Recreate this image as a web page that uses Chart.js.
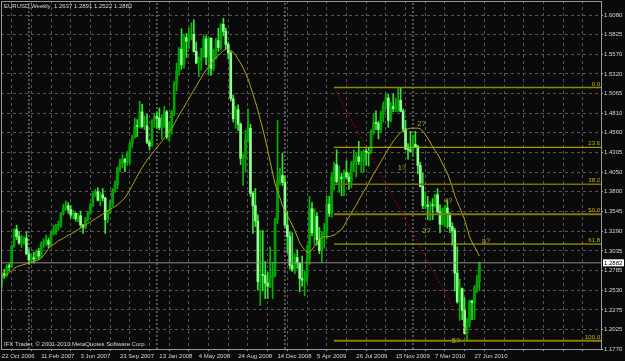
<!DOCTYPE html>
<html><head><meta charset="utf-8">
<script src="https://cdn.jsdelivr.net/npm/chart.js@4.4.1/dist/chart.umd.min.js"></script>
<style>html,body{margin:0;padding:0;background:#0a0a0a;overflow:hidden}#wrap{width:625px;height:361px;position:relative}</style>
</head><body><div id="wrap"><canvas id="c" width="625" height="361"></canvas></div>
<script>
// ---------- DATA ----------
const symbolTitle = 'EURUSD,Weekly';
const lastOHLC = [1.2637, 1.2891, 1.2522, 1.2882];
const copyrightText = 'IFX Trader, \u00a9 2001-2010 MetaQuotes Software Corp.';

// weekly bars, first bar = week of 22 Oct 2006, last = week of 11 Jul 2010
const opens = [1.2590,1.2740,1.2720,1.2840,1.2830,1.3100,1.3310,1.3220,1.3140,1.3150,1.3200,1.3000,1.2920,1.2950,1.2930,1.3030,1.2970,1.3130,1.3160,1.3170,
1.3120,1.3260,1.3300,1.3360,1.3380,1.3520,1.3590,1.3620,1.3570,1.3500,1.3520,1.3450,1.3490,1.3370,1.3340,1.3450,1.3520,1.3630,1.3780,1.3800,
1.3690,1.3760,1.3720,1.3440,1.3530,1.3640,1.3820,1.3890,1.4100,1.4160,1.4220,1.4180,1.4300,1.4420,1.4500,1.4650,1.4640,1.4830,1.4640,1.4650,
1.4440,1.4390,1.4720,1.4770,1.4750,1.4630,1.4650,1.4830,1.4510,1.4630,1.4830,1.5180,1.5360,1.5640,1.5440,1.5790,1.5740,1.5820,1.5830,1.5610,
1.5460,1.5490,1.5540,1.5770,1.5540,1.5780,1.5390,1.5610,1.5750,1.5660,1.5960,1.5870,1.5700,1.5590,1.5000,1.4740,1.4860,1.4670,1.4230,1.4240,
1.4470,1.4620,1.3780,1.3620,1.3420,1.2640,1.2730,1.2720,1.2620,1.2580,1.2690,1.2720,1.3440,1.3950,1.4010,1.3920,1.3370,1.3220,1.2850,1.2800,
1.2950,1.2880,1.2680,1.2660,1.2690,1.2930,1.3580,1.3270,1.3480,1.3180,1.3040,1.3250,1.3280,1.3640,1.3520,1.3990,1.4150,1.3930,1.3990,1.3970,
1.4050,1.3990,1.3930,1.4160,1.4200,1.4250,1.4190,1.4200,1.4320,1.4310,1.4300,1.4570,1.4690,1.4680,1.4600,1.4790,1.4910,1.5010,1.4720,1.4900,
1.4870,1.4920,1.4980,1.4840,1.4610,1.4350,1.4340,1.4320,1.4410,1.4380,1.4140,1.3870,1.3620,1.3630,1.3610,1.3630,1.3620,1.3760,1.3540,1.3380,
1.3570,1.3590,1.3520,1.3350,1.3300,1.2750,1.2380,1.2550,1.2270,1.1970,1.2110,1.2390,1.2370,1.2560,1.2637];
const highs = [1.2760,1.2800,1.2860,1.2870,1.3110,1.3320,1.3367,1.3290,1.3240,1.3220,1.3280,1.3060,1.2990,1.3020,1.3050,1.3070,1.3150,1.3190,1.3240,1.3200,
1.3280,1.3370,1.3380,1.3420,1.3530,1.3640,1.3680,1.3660,1.3620,1.3560,1.3530,1.3520,1.3550,1.3380,1.3470,1.3540,1.3650,1.3790,1.3830,1.3852,
1.3790,1.3840,1.3730,1.3560,1.3690,1.3840,1.3940,1.4120,1.4220,1.4280,1.4230,1.4320,1.4440,1.4530,1.4750,1.4730,1.4967,1.4930,1.4780,1.4800,
1.4470,1.4730,1.4810,1.4820,1.4880,1.4790,1.4900,1.4850,1.4700,1.4850,1.5220,1.5460,1.5660,1.5903,1.5830,1.5840,1.5910,1.5980,1.6019,1.5730,
1.5540,1.5650,1.5820,1.5810,1.5800,1.5790,1.5640,1.5780,1.5910,1.5970,1.6038,1.5910,1.5730,1.5610,1.5050,1.4900,1.4920,1.4690,1.4290,1.4590,
1.4867,1.4670,1.3800,1.3840,1.3500,1.3300,1.3300,1.2900,1.2760,1.3090,1.2890,1.3460,1.4720,1.4100,1.4300,1.4000,1.3550,1.3280,1.3270,1.3000,
1.3050,1.2890,1.2970,1.2780,1.3110,1.3738,1.3660,1.3580,1.3530,1.3340,1.3290,1.3390,1.3740,1.3740,1.4050,1.4180,1.4340,1.4130,1.4040,1.4080,
1.4200,1.4040,1.4190,1.4340,1.4300,1.4450,1.4320,1.4340,1.4380,1.4370,1.4600,1.4800,1.4845,1.4710,1.4840,1.4960,1.5060,1.5060,1.4950,1.5060,
1.5010,1.5144,1.5140,1.4870,1.4720,1.4420,1.4580,1.4530,1.4580,1.4400,1.4180,1.4040,1.3800,1.3740,1.3670,1.3710,1.3770,1.3840,1.3630,1.3590,
1.3620,1.3690,1.3530,1.3400,1.3330,1.3090,1.2670,1.2560,1.2430,1.2170,1.2400,1.2400,1.2590,1.2720,1.2891];
const lows = [1.2555,1.2680,1.2700,1.2780,1.2820,1.3080,1.3180,1.3120,1.3080,1.3120,1.2985,1.2865,1.2880,1.2880,1.2920,1.2930,1.2950,1.3080,1.3100,1.3075,
1.3100,1.3240,1.3250,1.3300,1.3340,1.3500,1.3560,1.3520,1.3460,1.3450,1.3420,1.3410,1.3340,1.3260,1.3320,1.3420,1.3510,1.3610,1.3740,1.3680,
1.3620,1.3680,1.3261,1.3400,1.3520,1.3610,1.3790,1.3840,1.4060,1.4110,1.4060,1.4140,1.4160,1.4370,1.4490,1.4510,1.4620,1.4620,1.4600,1.4420,
1.4340,1.4380,1.4630,1.4620,1.4600,1.4480,1.4630,1.4480,1.4450,1.4540,1.4780,1.5100,1.5300,1.5380,1.5400,1.5530,1.5650,1.5760,1.5600,1.5450,
1.5285,1.5370,1.5530,1.5440,1.5310,1.5300,1.5360,1.5510,1.5610,1.5630,1.5810,1.5640,1.5510,1.4970,1.4700,1.4620,1.4590,1.4150,1.3880,1.4050,
1.4440,1.3740,1.3260,1.3350,1.2530,1.2330,1.2520,1.2420,1.2420,1.2560,1.2420,1.2700,1.3390,1.3890,1.3880,1.3340,1.3010,1.2800,1.2770,1.2740,
1.2810,1.2510,1.2580,1.2456,1.2630,1.2860,1.3230,1.3120,1.3110,1.3000,1.2890,1.3070,1.3190,1.3480,1.3470,1.3820,1.3910,1.3790,1.3750,1.3750,
1.3960,1.3830,1.3850,1.4060,1.3990,1.4150,1.4050,1.4050,1.4140,1.4130,1.4290,1.4540,1.4600,1.4480,1.4560,1.4700,1.4870,1.4630,1.4700,1.4830,
1.4830,1.4830,1.4830,1.4570,1.4340,1.4220,1.4320,1.4260,1.4370,1.4030,1.3860,1.3580,1.3580,1.3440,1.3430,1.3440,1.3600,1.3530,1.3270,1.3370,
1.3350,1.3330,1.3270,1.3110,1.2520,1.2360,1.2140,1.2150,1.1960,1.1876,1.2050,1.2150,1.2150,1.2500,1.2522];
const closes = [1.2740,1.2720,1.2840,1.2830,1.3100,1.3310,1.3220,1.3140,1.3150,1.3200,1.3000,1.2920,1.2950,1.2930,1.3030,1.2970,1.3130,1.3160,1.3170,1.3120,
1.3260,1.3300,1.3360,1.3380,1.3520,1.3590,1.3620,1.3570,1.3500,1.3520,1.3450,1.3490,1.3370,1.3340,1.3450,1.3520,1.3630,1.3780,1.3800,1.3690,
1.3760,1.3720,1.3440,1.3530,1.3640,1.3820,1.3890,1.4100,1.4160,1.4220,1.4180,1.4300,1.4420,1.4500,1.4650,1.4640,1.4830,1.4640,1.4650,1.4440,
1.4390,1.4720,1.4770,1.4750,1.4630,1.4650,1.4830,1.4510,1.4630,1.4830,1.5180,1.5360,1.5640,1.5440,1.5790,1.5740,1.5820,1.5830,1.5610,1.5460,
1.5490,1.5540,1.5770,1.5540,1.5780,1.5390,1.5610,1.5750,1.5660,1.5960,1.5870,1.5700,1.5590,1.5000,1.4740,1.4860,1.4670,1.4230,1.4240,1.4470,
1.4620,1.3780,1.3620,1.3420,1.2640,1.2730,1.2720,1.2620,1.2580,1.2690,1.2720,1.3440,1.3950,1.4010,1.3920,1.3370,1.3220,1.2850,1.2800,1.2950,
1.2880,1.2680,1.2660,1.2690,1.2930,1.3580,1.3270,1.3480,1.3180,1.3040,1.3250,1.3280,1.3640,1.3520,1.3990,1.4150,1.3930,1.3990,1.3970,1.4050,
1.3990,1.3930,1.4160,1.4200,1.4250,1.4190,1.4200,1.4320,1.4310,1.4300,1.4570,1.4690,1.4680,1.4600,1.4790,1.4910,1.5010,1.4720,1.4900,1.4870,
1.4920,1.4980,1.4840,1.4610,1.4350,1.4340,1.4320,1.4410,1.4380,1.4140,1.3870,1.3620,1.3630,1.3610,1.3630,1.3620,1.3760,1.3540,1.3380,1.3570,
1.3590,1.3520,1.3350,1.3300,1.2750,1.2380,1.2550,1.2270,1.1970,1.2110,1.2390,1.2370,1.2560,1.2637,1.2882];
// yellow moving average
const maValues = [1.270,1.272,1.273,1.276,1.278,1.281,1.283,1.284,1.285,1.286,1.287,1.288,1.289,1.290,1.291,1.292,1.294,1.298,1.302,1.307,
1.310,1.312,1.314,1.317,1.318,1.320,1.322,1.324,1.325,1.327,1.329,1.331,1.333,1.335,1.337,1.339,1.341,1.343,1.345,1.347,
1.349,1.351,1.353,1.355,1.357,1.359,1.361,1.363,1.366,1.369,1.372,1.377,1.382,1.388,1.394,1.400,1.406,1.411,1.416,1.421,
1.425,1.429,1.433,1.437,1.441,1.445,1.449,1.454,1.458,1.462,1.467,1.473,1.479,1.484,1.489,1.495,1.500,1.506,1.511,1.516,
1.522,1.527,1.533,1.537,1.541,1.546,1.550,1.553,1.556,1.559,1.562,1.564,1.564,1.562,1.560,1.556,1.551,1.546,1.540,1.533,
1.526,1.516,1.506,1.496,1.485,1.473,1.461,1.448,1.434,1.419,1.404,1.390,1.381,1.372,1.362,1.355,1.349,1.343,1.337,1.330,
1.322,1.314,1.309,1.305,1.302,1.302,1.305,1.310,1.314,1.318,1.321,1.322,1.322,1.322,1.323,1.324,1.326,1.329,1.331,1.336,
1.342,1.347,1.352,1.358,1.363,1.369,1.375,1.380,1.385,1.391,1.397,1.403,1.408,1.413,1.419,1.424,1.430,1.435,1.440,1.445,
1.449,1.453,1.456,1.459,1.460,1.461,1.462,1.462,1.462,1.462,1.461,1.458,1.454,1.449,1.444,1.438,1.433,1.429,1.423,1.416,
1.410,1.404,1.395,1.386,1.375,1.367,1.360,1.352,1.344,1.333,1.322,1.315,1.309,1.303,1.297];

const dateTickLabels = ['22 Oct 2006','11 Feb 2007','3 Jun 2007','23 Sep 2007','13 Jan 2008','4 May 2008','24 Aug 2008','14 Dec 2008','5 Apr 2009','26 Jul 2009','15 Nov 2009','7 Mar 2010','27 Jun 2010'];
const priceTickValues = [1.6080,1.5825,1.5570,1.5320,1.5065,1.4810,1.4560,1.4305,1.4050,1.3800,1.3545,1.3290,1.3035,1.2785,1.2530,1.2275,1.2025,1.1770];
const yearStartBars = [11, 63, 115, 167];          // first weekly bar of 2007, 2008, 2009, 2010
const currentPrice = 1.2882;

const fibHigh = 1.5144, fibLow = 1.1876;
const fibLevels = [0, 23.6, 38.2, 50, 61.8, 100];
const fibLevelNames = ['0.0','23.6','38.2','50.0','61.8','100.0'];
const fibAnchorBars = [134.9, 190.6];

const waveTexts = ['1?','2?','3?','4?','5?','a?'];
const waveBars = [162.5, 170.5, 172.5, 181.4, 184.5, 196.7];
const wavePrices = [1.4112, 1.4680, 1.3293, 1.3686, 1.1873, 1.3170];

// ---------- CHART ----------
const X_MIN = -0.33, X_MAX = 243.4, Y_MIN = 1.1770, Y_MAX = 1.6261;
const FONT = "'Liberation Sans', Arial, sans-serif";
const fibStyle = [
  {c:'#8e8c00', w:1.6}, {c:'#c2c000', w:1}, {c:'#747200', w:1.6},
  {c:'#807a00', w:2}, {c:'#c2c000', w:1}, {c:'#848200', w:2}
];

const bull = closes.map((c, i) => c >= opens[i]);
const datasets = [];

yearStartBars.forEach(b => datasets.push({
  type:'line', order:8, data:[{x:b, y:Y_MIN}, {x:b, y:Y_MAX}],
  borderColor:'#9c9c9c', borderWidth:1, borderDash:[2,2], pointRadius:0, fill:false
}));
datasets.push({
  type:'line', order:3, data:[{x:X_MIN, y:currentPrice}, {x:X_MAX, y:currentPrice}],
  borderColor:'#8e8e8e', borderWidth:1, pointRadius:0, fill:false
});
fibLevels.forEach((lv, k) => {
  const p = fibHigh - (fibHigh - fibLow) * lv / 100;
  datasets.push({
    type:'line', order:1, data:[{x:fibAnchorBars[0], y:p}, {x:X_MAX, y:p}],
    borderColor:fibStyle[k].c, borderWidth:fibStyle[k].w, pointRadius:0, fill:false
  });
});
datasets.push({
  type:'bar', order:6, grouped:false, barPercentage:1, categoryPercentage:1, maxBarThickness:1,
  data: lows.map((l, i) => ({x:i, y:[l, highs[i]]})),
  backgroundColor: bull.map(b => b ? '#00b800' : '#2fe82f')
});
datasets.push({
  type:'bar', order:5, grouped:false, barPercentage:1, categoryPercentage:1, maxBarThickness:2, minBarLength:1,
  data: opens.map((o, i) => ({x:i, y:[Math.min(o, closes[i]), Math.max(o, closes[i])]})),
  backgroundColor: bull.map(b => b ? '#00a400' : '#8cff8c')
});
datasets.push({
  type:'line', order:2, data: maValues.map((v, i) => ({x:i, y:v})),
  borderColor:'#b3a21e', borderWidth:1, pointRadius:0, fill:false, tension:0
});
datasets.push({
  type:'line', order:0, data:[{x:fibAnchorBars[0], y:fibHigh}, {x:fibAnchorBars[1], y:fibLow}],
  borderColor:'#b00000', borderWidth:1, borderDash:[2,2], pointRadius:0, fill:false
});

const overlay = {
  id:'overlay',
  beforeDraw(chart) {
    const c = chart.ctx; c.save(); c.fillStyle = '#0a0a0a'; c.fillRect(0, 0, chart.width, chart.height); c.restore();
  },
  afterDraw(chart) {
    const {ctx, chartArea:a, scales:{x, y}} = chart;
    ctx.save();
    ctx.strokeStyle = '#9a9a9a'; ctx.lineWidth = 1;
    ctx.beginPath();
    ctx.moveTo(a.left + 0.5, a.bottom); ctx.lineTo(a.left + 0.5, a.top + 0.5); ctx.lineTo(a.right, a.top + 0.5);
    ctx.stroke();
    // header & copyright
    ctx.font = '6px ' + FONT; ctx.fillStyle = '#d6d6d6'; ctx.textBaseline = 'middle'; ctx.textAlign = 'left';
    ctx.fillText(symbolTitle + '  ' + lastOHLC.map(v => v.toFixed(4)).join(' '), 4, 6.5);
    ctx.fillText(copyrightText, 4, 344.5);
    // fib labels
    ctx.fillStyle = '#c8b800'; ctx.textAlign = 'right'; ctx.textBaseline = 'alphabetic';
    fibLevels.forEach((lv, k) => {
      const p = fibHigh - (fibHigh - fibLow) * lv / 100;
      ctx.fillText(fibLevelNames[k], a.right - 1, y.getPixelForValue(p) - 2);
    });
    // wave labels
    ctx.font = '7.5px ' + FONT; ctx.fillStyle = '#b8a232'; ctx.textAlign = 'center'; ctx.textBaseline = 'middle';
    waveTexts.forEach((t, k) => ctx.fillText(t, x.getPixelForValue(waveBars[k]), y.getPixelForValue(wavePrices[k])));
    // current price box
    const py = y.getPixelForValue(currentPrice);
    ctx.fillStyle = '#ffffff'; ctx.fillRect(a.right + 2, py - 3.5, 21, 7);
    ctx.font = '6px ' + FONT; ctx.fillStyle = '#000000'; ctx.textAlign = 'left'; ctx.textBaseline = 'middle';
    ctx.fillText(currentPrice.toFixed(4), a.right + 3, py + 0.5);
    ctx.restore();
  }
};

new Chart(document.getElementById('c'), {
  type:'bar',
  data:{ datasets },
  options:{
    responsive:false, animation:false, events:[], devicePixelRatio:1,
    layout:{ padding:{ left:1, top:1, right:0, bottom:0 } },
    plugins:{ legend:{display:false}, tooltip:{enabled:false}, title:{display:false} },
    scales:{
      x:{
        type:'linear', min:X_MIN, max:X_MAX, offset:false,
        afterBuildTicks: s => { const t = []; for (let v = 0; v <= X_MAX; v += 8) t.push({value:v}); s.ticks = t; },
        afterFit: s => { s.height = 12; s.paddingLeft = 0; s.paddingRight = 0; },
        ticks:{ autoSkip:false, maxRotation:0, minRotation:0, align:'start', padding:2, color:'#d6d6d6',
          font:{ family:FONT, size:6 },
          callback: v => (v % 16 === 0 && v / 16 < dateTickLabels.length) ? dateTickLabels[v / 16] : '' },
        grid:{ color:'#555555', lineWidth:1, drawTicks:true, tickLength:2, tickColor:'#a0a0a0' },
        border:{ display:true, color:'#9a9a9a', dash:[3,3] }
      },
      y:{
        type:'linear', position:'right', min:Y_MIN, max:Y_MAX,
        afterBuildTicks: s => { s.ticks = priceTickValues.map(v => ({value:v})); },
        afterFit: s => { s.width = 24; s.paddingTop = 0; s.paddingBottom = 0; },
        ticks:{ autoSkip:false, padding:1, color:'#d6d6d6', font:{ family:FONT, size:6 },
          callback: v => Number(v).toFixed(4) },
        grid:{ color:'#555555', lineWidth:1, drawTicks:true, tickLength:2, tickColor:'#a0a0a0' },
        border:{ display:true, color:'#9a9a9a', dash:[3,3] }
      }
    }
  },
  plugins:[overlay]
});
</script>
</body></html>
